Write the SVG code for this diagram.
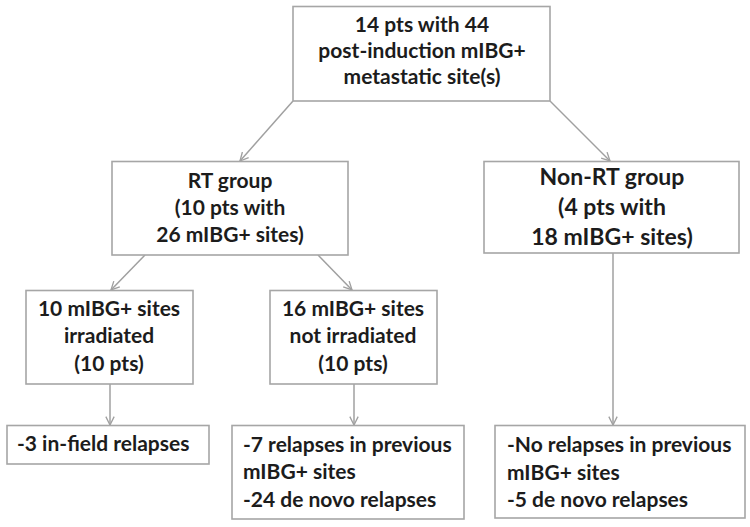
<svg xmlns="http://www.w3.org/2000/svg" width="750" height="527" viewBox="0 0 750 527">
<defs>
<style>
.box{fill:#fff;stroke:#a6a6a6;stroke-width:1.6}
.t{font-family:Lato,"Open Sans","Liberation Sans",sans-serif;font-weight:bold;fill:#1c1c1c;font-size:21px}
.c{text-anchor:middle}
.big{font-size:23px}
.con{stroke:#a0a0a0;stroke-width:1.5;fill:none;marker-end:url(#ah)}
</style>
<marker id="ah" viewBox="0 0 12 12" refX="11" refY="6" markerWidth="10" markerHeight="10" markerUnits="userSpaceOnUse" orient="auto">
<polyline points="1,1 11,6 1,11" fill="none" stroke="#a0a0a0" stroke-width="1.6"/>
</marker>
</defs>
<rect width="750" height="527" fill="#fff"/>
<g id="connectors">
<line class="con" x1="293" y1="101" x2="240" y2="161"/>
<line class="con" x1="550" y1="101" x2="610" y2="161"/>
<line class="con" x1="145" y1="255" x2="111" y2="290"/>
<line class="con" x1="318" y1="255" x2="352" y2="290"/>
<line class="con" x1="110" y1="384" x2="110" y2="425"/>
<line class="con" x1="354" y1="384" x2="354" y2="425"/>
<line class="con" x1="613" y1="253" x2="613" y2="425"/>
</g>
<g id="top">
<rect class="box" x="293" y="6.5" width="257" height="94.5"/>
<text class="t c" x="422" y="32">14 pts with 44</text>
<text class="t c" x="422" y="58">post-induction mIBG+</text>
<text class="t c" x="422" y="84">metastatic site(s)</text>
</g>
<g id="rt">
<rect class="box" x="112" y="161.5" width="236" height="93.5"/>
<text class="t c" x="230" y="188">RT group</text>
<text class="t c" x="230" y="215">(10 pts with</text>
<text class="t c" x="230" y="242">26 mIBG+ sites)</text>
</g>
<g id="nonrt">
<rect class="box" x="484" y="161.5" width="255" height="91.5"/>
<text class="t c big" x="612" y="185">Non-RT group</text>
<text class="t c big" x="612" y="215">(4 pts with</text>
<text class="t c big" x="612" y="245">18 mIBG+ sites)</text>
</g>
<g id="irr">
<rect class="box" x="26" y="290.5" width="167" height="93.5"/>
<text class="t c" x="109" y="316">10 mIBG+ sites</text>
<text class="t c" x="109" y="343">irradiated</text>
<text class="t c" x="109" y="371">(10 pts)</text>
</g>
<g id="notirr">
<rect class="box" x="270" y="290.5" width="167" height="93.5"/>
<text class="t c" x="353" y="316">16 mIBG+ sites</text>
<text class="t c" x="353" y="343">not irradiated</text>
<text class="t c" x="353" y="371">(10 pts)</text>
</g>
<g id="infield">
<rect class="box" x="7" y="425.5" width="202" height="38.5"/>
<text class="t" x="17" y="451">-3 in-field relapses</text>
</g>
<g id="midres">
<rect class="box" x="232" y="425.5" width="232" height="93.5"/>
<text class="t" x="243" y="452">-7 relapses in previous</text>
<text class="t" x="243" y="479">mIBG+ sites</text>
<text class="t" x="243" y="507">-24 de novo relapses</text>
</g>
<g id="rightres">
<rect class="box" x="495" y="425.5" width="250" height="92.5"/>
<text class="t" x="507" y="452">-No relapses in previous</text>
<text class="t" x="507" y="480">mIBG+ sites</text>
<text class="t" x="507" y="507">-5 de novo relapses</text>
</g>
</svg>
